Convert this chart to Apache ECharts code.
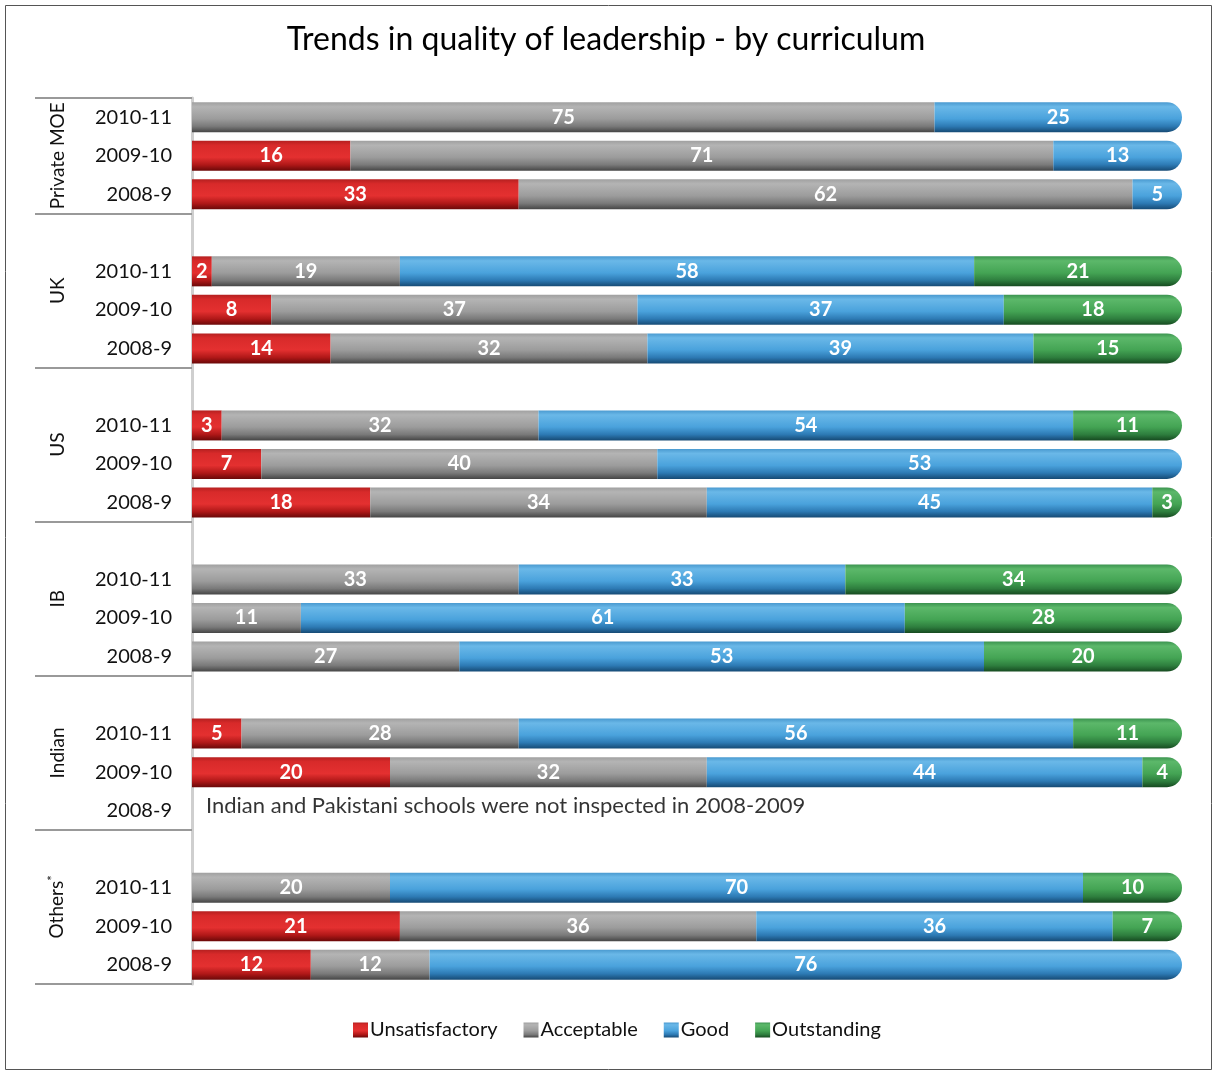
<!DOCTYPE html>
<html>
<head>
<meta charset="utf-8">
<script src="https://cdn.jsdelivr.net/npm/echarts@6/dist/echarts.min.js"></script>
<style>
html,body{margin:0;padding:0;background:#fff;}
#main{width:1212px;height:1070px;}
</style>
</head>
<body>
<div id="main"></div>
<script>
// ---- data ----
const groups = ['Private MOE', 'UK', 'US', 'IB', 'Indian', 'Others'];
const years = ['2010-11', '2009-10', '2008-9'];
const seriesNames = ['Unsatisfactory', 'Acceptable', 'Good', 'Outstanding'];
// per group, per year: [Unsatisfactory, Acceptable, Good, Outstanding]
const privateMOE = [[0, 75, 25, 0], [16, 71, 13, 0], [33, 62, 5, 0]];
const uk = [[2, 19, 58, 21], [8, 37, 37, 18], [14, 32, 39, 15]];
const us = [[3, 32, 54, 11], [7, 40, 53, 0], [18, 34, 45, 3]];
const ib = [[0, 33, 33, 34], [0, 11, 61, 28], [0, 27, 53, 20]];
const indian = [[5, 28, 56, 11], [20, 32, 44, 4], null];
const others = [[0, 20, 70, 10], [21, 36, 36, 7], [12, 12, 76, 0]];
const groupData = [privateMOE, uk, us, ib, indian, others];
const noteText = 'Indian and Pakistani schools were not inspected in 2008-2009';

// ---- build category slots ----
const cats = [];
const rows = [];
groups.forEach((g, gi) => {
  if (gi > 0) { cats.push('gap' + gi + '|'); rows.push(null); }
  years.forEach((y, yi) => { cats.push(g + '|' + y); rows.push(groupData[gi][yi]); });
});
// group label positions / separators on a 0..N value axis
const groupCenters = [], groupBounds = [0];
let idx = 0;
groups.forEach((g, gi) => {
  const start = idx;
  idx += (gi > 0 ? 4 : 3);
  groupCenters.push((start + idx) / 2);
  groupBounds.push(idx);
});
const groupLabelMap = {};
groupCenters.forEach((c, i) => groupLabelMap[c] = groups[i]);

function grad(c) {
  return new echarts.graphic.LinearGradient(0, 0, 0, 1, [
    {offset: 0, color: c[0]}, {offset: 0.15, color: c[1]},
    {offset: 0.55, color: c[2]}, {offset: 0.8, color: c[3]}, {offset: 1, color: c[4]}
  ]);
}
const colors = [
  ['#b52020', '#d82a2a', '#e43030', '#b01818', '#6a0808'],
  ['#a0a0a0', '#b4b4b4', '#9c9c9c', '#7a7a7a', '#454545'],
  ['#4a9ad0', '#6ab8e8', '#4aa2dc', '#2d7ab4', '#164a74'],
  ['#3c9450', '#5cb86a', '#44a454', '#2e7e3e', '#164a20']
];

const series = seriesNames.map((name, si) => ({
  name, type: 'bar', stack: 'total', barWidth: 30,
  itemStyle: {color: grad(colors[si])},
  label: {
    show: true, position: 'inside', color: '#fff', fontSize: 20,
    fontFamily: 'Lato', fontWeight: 'bold',
    formatter: p => (p.value > 0 ? p.value : '')
  },
  data: rows.map(r => {
    if (!r) return '-';
    let last = -1;
    r.forEach((v, k) => { if (v > 0) last = k; });
    const v = r[si];
    if (si === last) return {value: v, itemStyle: {borderRadius: [0, 15, 15, 0]}};
    return v;
  })
}));
series.push({
  type: 'scatter', symbolSize: 0, silent: true, legendHoverLink: false,
  data: [[0, 'Indian|2008-9']],
  label: {show: true, position: 'right', distance: 14, offset: [0, -5], formatter: noteText,
    color: '#000', fontSize: 22, fontFamily: 'Lato'}
});

const chart = echarts.init(document.getElementById('main'));
chart.setOption({
  animation: false,
  textStyle: {fontFamily: 'Lato'},
  title: {
    text: 'Trends in quality of leadership - by curriculum', left: 'center', top: 19,
    textStyle: {fontSize: 32, fontWeight: 'normal', color: '#000', fontFamily: 'Lato'}
  },
  legend: {
    bottom: 25, left: 348, icon: 'rect', itemWidth: 15, itemHeight: 15, itemGap: 26,
    data: seriesNames,
    textStyle: {fontSize: 20, color: '#111', fontFamily: 'Lato', padding: [0, 0, 0, -3]}
  },
  grid: {left: 192, right: 30, top: 98, bottom: 86, containLabel: false},
  xAxis: {type: 'value', min: 0, max: 100, show: false},
  yAxis: [
    {
      type: 'category', inverse: true, data: cats,
      axisLine: {show: true, lineStyle: {color: '#cfcfcf', width: 3}},
      axisTick: {show: false},
      axisLabel: {fontSize: 20, color: '#111', margin: 20, fontFamily: 'Lato',
        formatter: v => v.split('|')[1]}
    },
    {
      type: 'value', inverse: true, min: 0, max: cats.length, position: 'left',
      axisLine: {show: false}, splitLine: {show: false},
      axisTick: {show: true, customValues: groupBounds, length: 157, inside: false,
        lineStyle: {color: '#999', width: 2}},
      axisLabel: {show: true, customValues: groupCenters, rotate: 90, margin: 125,
        fontSize: 19, color: '#111', fontFamily: 'Lato',
        formatter: v => groupLabelMap[v] === 'Others' ? 'Others{sup|*}' : groupLabelMap[v],
        rich: {sup: {fontSize: 13, verticalAlign: 'top', padding: [0, 0, 8, 0]}}}
    }
  ],
  graphic: [{
    type: 'rect', left: 3, top: 3, silent: true,
    shape: {width: 1206, height: 1064},
    style: {fill: 'none', stroke: '#555', lineWidth: 1}
  }],
  series
});
</script>
</body>
</html>
